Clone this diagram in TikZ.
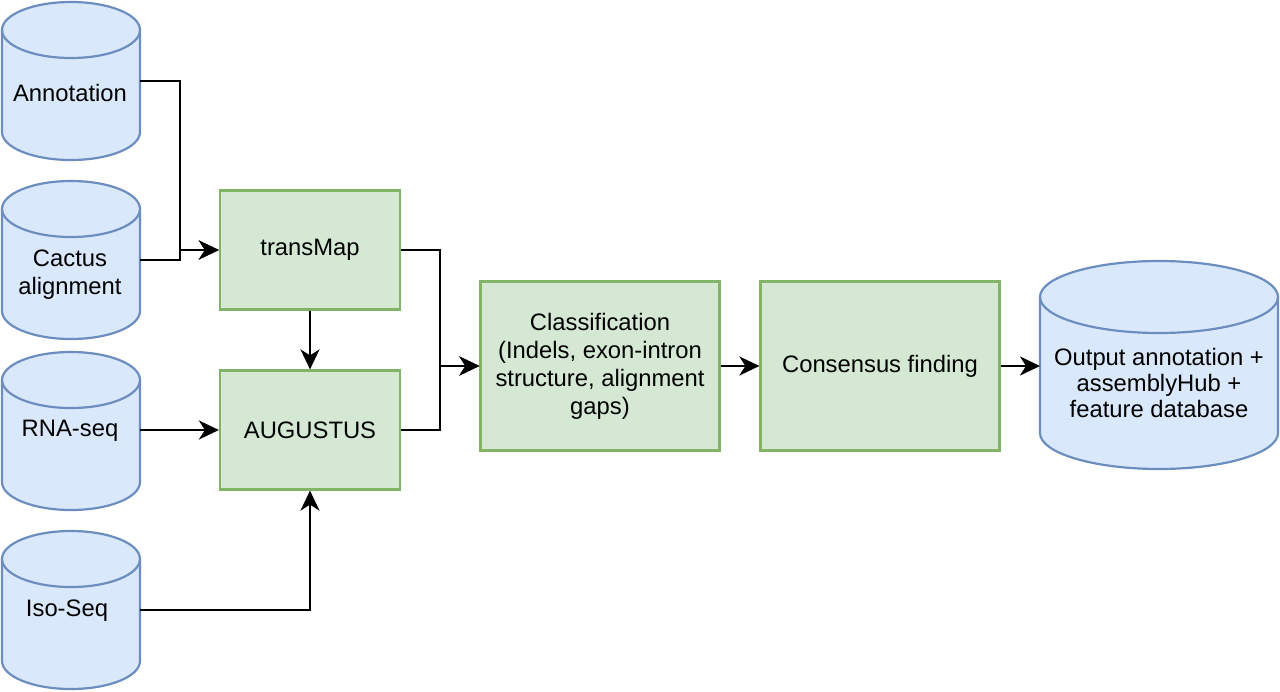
\documentclass[tikz,border=0pt]{standalone}
\usepackage{fontspec}
\setmainfont{Liberation Sans}
\usetikzlibrary{arrows.meta}
\definecolor{cylfill}{HTML}{DAE8FC}
\definecolor{cyldraw}{HTML}{6C8EBF}
\definecolor{boxfill}{HTML}{D5E8D4}
\definecolor{boxdraw}{HTML}{82B366}
\newcommand\dbdraw[5]{%
  \pgfmathsetmacro\rxx{(#3-#1)/2}%
  \filldraw[cylstyle] (#1,-#2-#5) -- (#1,-#4+#5)
     arc[start angle=180,end angle=360,x radius=\rxx,y radius=#5]
     -- (#3,-#2-#5)
     arc[start angle=0,end angle=180,x radius=\rxx,y radius=#5] -- cycle;
  \draw[cylstyle,fill=none] (#1,-#2-#5)
     arc[start angle=180,end angle=360,x radius=\rxx,y radius=#5];
}
\tikzset{
  cylstyle/.style={fill=cylfill,draw=cyldraw,line width=2.2pt},
  hold/.style={inner sep=0pt,outer sep=0pt,draw=none},
  txt/.style={inner sep=0pt,align=center,font=\fontsize{23.8}{28}\selectfont},
  procbox/.style={fill=boxfill,draw=boxdraw,line width=2.2pt,inner sep=0pt,
    minimum width=180pt,align=center,font=\fontsize{23.8}{28}\selectfont},
  conn/.style={line width=2.6pt,draw=black},
  arr/.style={conn,-{Stealth[length=20pt,width=19pt,inset=6pt]}},
}
\begin{document}
\begin{tikzpicture}[x=1pt,y=1pt]
\useasboundingbox (0,0) rectangle (1280,-691);
% cylinders
\dbdraw{2}{2}{140}{160}{28}
\node[hold,minimum width=138pt,minimum height=158pt] (anno) at (71,-81) {};
\node[txt] (annoT) at (70,-93) {Annotation};
\dbdraw{2}{181}{140}{339}{28}
\node[hold,minimum width=138pt,minimum height=158pt] (cact) at (71,-260) {};
\node[txt] (cactT) at (70,-275) {Cactus\\alignment};
\dbdraw{2}{352}{140}{510}{28}
\node[hold,minimum width=138pt,minimum height=158pt] (rna) at (71,-430) {};
\node[txt] (rnaT) at (70,-431) {RNA-seq};
\dbdraw{2}{531}{140}{689}{28}
\node[hold,minimum width=138pt,minimum height=158pt] (iso) at (71,-610) {};
\node[txt] (isoT) at (67,-611) {Iso-Seq};
\dbdraw{1040}{261}{1278}{469}{36}
\node[hold,minimum width=238pt,minimum height=208pt] (out) at (1159,-366) {};
\node[txt,font=\fontsize{23.8}{25.8}\selectfont] (outT) at (1159,-383) {Output annotation +\\assemblyHub +\\feature database};
% process boxes
\node[procbox,minimum height=119pt] (trans) at (310,-250) {transMap};
\node[procbox,minimum height=119pt] (aug) at (310,-430) {AUGUSTUS};
\node[procbox,minimum width=239pt,minimum height=169pt] (class) at (600,-366) {Classification\\(Indels, exon-intron\\structure, alignment\\gaps)};
\node[procbox,minimum width=239pt,minimum height=169pt] (cons) at (880,-366) {Consensus finding};
% junctions
\coordinate (j1) at (180,-250);
\coordinate (j2) at (440,-366);
% connectors
\draw[arr] (anno.east) -| (j1) -- (trans.west);
\draw[arr] (cact.east) -| (j1) -- (trans.west);
\draw[arr] (trans.south) -- (aug.north);
\draw[arr] (rna.east) -- (aug.west);
\draw[arr] (iso.east) -| (aug.south);
\draw[arr] (trans.east) -| (j2) -- (class.west);
\draw[arr] (aug.east) -| (j2) -- (class.west);
\draw[arr] (class.east) -- (cons.west);
\draw[arr] (cons.east) -- (out.west);
\end{tikzpicture}
\end{document}
